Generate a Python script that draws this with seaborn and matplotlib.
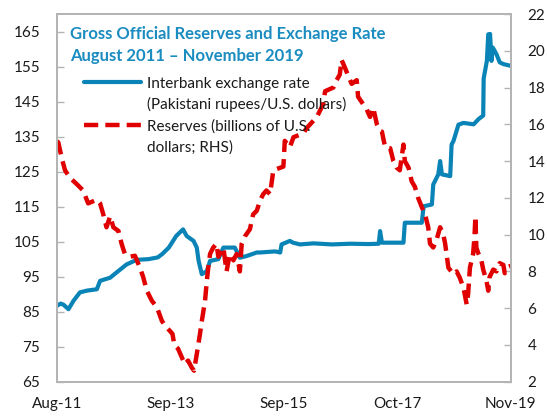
import matplotlib
matplotlib.use("Agg")
import matplotlib.pyplot as plt
from matplotlib.lines import Line2D
import numpy as np
import pandas as pd
import seaborn as sns

# ---------------- data (x = months since Aug-2011) ----------------
rate_month = [0.0, 0.8, 1.4, 2.5, 3.6, 5.0, 6.5, 8.7, 9.4, 11.6, 13.0, 15.2, 17.4, 20.0,
              22.0, 23.0, 24.4, 26.0, 27.5, 28.3, 29.8, 30.5, 30.9, 31.6, 32.7, 33.4,
              35.2, 36.3, 38.8, 39.9, 41.4, 43.6, 44.3, 47.6, 48.7, 49.0, 50.8, 51.5,
              53.0, 56.0, 60.0, 64.0, 68.0, 70.2, 70.5, 70.9, 75.6, 75.9, 79.6, 80.0,
              81.8, 82.1, 83.2, 83.6, 84.0, 85.8, 86.1, 86.5, 87.6, 88.7, 90.9, 92.0,
              93.0, 93.1, 93.8, 94.1, 94.5, 94.8, 95.1, 95.9, 96.6, 97.4, 99.0]
rate_value = [86.7, 87.3, 87.0, 85.7, 88.1, 90.5, 91.0, 91.4, 93.8, 94.7, 96.2, 98.5, 99.8, 100.0,
              100.5, 101.5, 103.3, 106.6, 108.5, 106.6, 105.2, 103.3, 99.5, 95.7, 96.6, 99.5,
              100.0, 103.3, 103.3, 100.4, 100.9, 101.9, 101.9, 102.2, 101.9, 104.2, 105.2, 104.7,
              104.2, 104.5, 104.2, 104.4, 104.3, 104.4, 108.0, 104.7, 104.7, 110.4, 110.4, 115.1,
              115.6, 121.3, 124.2, 128.0, 124.2, 123.7, 132.7, 133.7, 138.4, 138.9, 138.5, 140.0,
              141.0, 151.6, 156.6, 164.2, 164.3, 156.6, 160.4, 158.5, 156.2, 155.7, 155.2]

res_month = [0.0, 0.3, 1.0, 1.75, 2.8, 4.3, 5.7, 6.8, 8.7, 9.4, 10.1, 10.8, 11.6, 12.3, 13.4,
             14.1, 14.8, 15.9, 17.0, 18.1, 18.8, 19.6, 20.7, 21.8, 22.9, 23.6, 25.2, 25.6,
             26.4, 27.1, 27.9, 28.6, 29.4, 29.9, 30.5, 31.2, 31.6, 32.3, 32.7, 33.0, 33.4,
             34.1, 34.8, 35.2, 36.3, 37.0, 37.7, 38.5, 39.2, 39.9, 40.3, 41.0, 42.1, 42.8,
             43.6, 44.3, 45.0, 45.7, 46.5, 47.2, 49.4, 49.7, 50.8, 51.6, 53.7, 54.5, 56.7,
             57.4, 58.1, 58.5, 60.3, 61.0, 61.7, 62.1, 62.8, 63.6, 64.3, 65.4, 65.7, 66.8,
             67.6, 68.3, 69.0, 69.8, 70.5, 70.9, 71.6, 72.7, 73.4, 74.1, 74.8, 75.6, 75.9,
             76.7, 77.4, 78.1, 78.8, 79.6, 80.3, 81.0, 81.4, 82.1, 82.8, 83.6, 84.3, 84.7,
             85.0, 85.4, 86.5, 87.2, 87.9, 88.7, 89.4, 89.7, 90.1, 90.8, 91.1, 91.3, 91.5,
             91.9, 92.6, 93.0, 93.7, 94.1, 94.4, 95.2, 95.9, 96.6, 97.4, 97.7, 98.5, 99.0]
res_value = [15.1, 15.0, 14.2, 13.5, 13.1, 12.75, 12.4, 11.7, 11.9, 11.7, 11.1, 10.4, 11.0, 10.4, 10.2,
             9.5, 8.95, 8.8, 8.85, 8.2, 7.7, 6.95, 6.4, 6.05, 5.3, 5.05, 4.6, 4.0,
             3.8, 3.4, 2.95, 3.15, 2.77, 2.6, 3.5, 4.6, 5.3, 6.4, 7.5, 8.2, 8.95,
             9.3, 9.5, 8.8, 9.3, 8.0, 8.95, 8.6, 8.95, 8.0, 9.5, 9.9, 10.3, 11.1,
             11.3, 11.85, 12.2, 12.4, 12.2, 13.5, 13.7, 15.1, 14.75, 15.3, 15.5, 15.8, 16.4,
             16.75, 17.1, 17.8, 18.0, 18.4, 18.7, 19.5, 19.1, 18.6, 18.2, 18.4, 17.5, 17.1,
             16.8, 16.4, 16.9, 16.0, 15.65, 15.6, 14.75, 14.7, 14.0, 13.65, 13.5, 14.9, 14.0,
             13.65, 12.9, 12.6, 12.0, 11.5, 11.1, 10.4, 9.5, 9.3, 9.7, 10.4, 10.0, 9.5,
             8.95, 8.2, 7.85, 8.0, 7.65, 7.1, 6.2, 6.75, 8.2, 8.95, 9.9, 11.0, 9.3,
             9.0, 8.6, 8.1, 7.5, 6.95, 7.7, 8.1, 8.0, 8.45, 8.35, 7.9, 8.25, 8.3]

x_tick_labels = ["Aug-11", "Sep-13", "Sep-15", "Oct-17", "Nov-19"]
left_ticks = [65, 75, 85, 95, 105, 115, 125, 135, 145, 155, 165]
right_ticks = [2, 4, 6, 8, 10, 12, 14, 16, 18, 20, 22]

title_text = "Gross Official Reserves and Exchange Rate\nAugust 2011 \u2013 November 2019"
legend_labels = ["Interbank exchange rate", "(Pakistani rupees/U.S. dollars)",
                 "Reserves (billions of U.S.", "dollars; RHS)"]

# ---------------- style ----------------
sns.set_style("white")
plt.rcParams["font.family"] = ["Lato", "DejaVu Sans"]
BLUE = "#0A84B6"
TITLE_BLUE = "#1A8CC0"
RED = "#E00000"
SPINE = "#B4B4B4"
FS = 11

fig = plt.figure(figsize=(5.47, 4.17), dpi=100)
W, H = 547, 417
ax = fig.add_axes([57 / W, 1 - 381.7 / H, 453.7 / W, 367.7 / H])
ax2 = ax.twinx()

df_rate = pd.DataFrame({"month": rate_month, "rate": rate_value})
df_res = pd.DataFrame({"month": res_month, "reserves": res_value})

sns.lineplot(data=df_rate, x="month", y="rate", ax=ax, color=BLUE, lw=3.0,
             solid_joinstyle="round", estimator=None, sort=False)
sns.lineplot(data=df_res, x="month", y="reserves", ax=ax2, color=RED, lw=3.2,
             linestyle=(0, (3.2, 1.6)), estimator=None, sort=False)

ax.set_xlim(0, 99)
ax.set_ylim(65, 170)
ax2.set_ylim(2, 22)
ax.set_xticks(np.linspace(0, 99, 5))
ax.set_xticklabels(x_tick_labels)
ax.set_yticks(left_ticks)
ax2.set_yticks(right_ticks)
ax.set_xlabel("")
ax.set_ylabel("")
ax2.set_ylabel("")

for a in (ax, ax2):
    for s in a.spines.values():
        s.set_visible(True)
        s.set_color(SPINE)
        s.set_linewidth(1.3)
ax.tick_params(axis="x", direction="in", length=5, width=1, color=SPINE,
               pad=11, labelsize=FS, labelcolor="#1a1a1a")
ax.tick_params(axis="y", direction="in", length=5, width=1, color=SPINE,
               pad=12, labelsize=FS, labelcolor="#1a1a1a", left=True)
ax2.tick_params(axis="y", direction="in", length=5, width=1, color=SPINE,
                pad=12, labelsize=FS, labelcolor="#1a1a1a", right=True)

ax.text(0.029, 0.967, title_text, transform=ax.transAxes, ha="left", va="top",
        fontsize=12, fontweight="bold", color=TITLE_BLUE, linespacing=1.45)

blank = Line2D([], [], color="none")
handles = [Line2D([], [], color=BLUE, lw=3.0), blank,
           Line2D([], [], color=RED, lw=3.2, linestyle=(0, (3.2, 1.6))), blank]
leg = ax2.legend(handles, legend_labels, loc="upper left",
                 bbox_to_anchor=(0.06, 0.83), frameon=False, fontsize=FS,
                 handlelength=3.7, handletextpad=0.4, labelspacing=0.45,
                 borderpad=0, borderaxespad=0)
for t in leg.get_texts():
    t.set_color("#1a1a1a")

fig.savefig("out.png", dpi=100)
